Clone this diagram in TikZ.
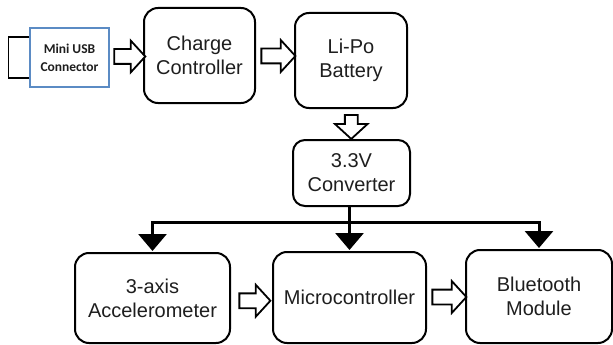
\documentclass[tikz,border=0pt]{standalone}
\usepackage{fontspec}
\setmainfont{Liberation Sans}
\newfontfamily\usbfont{Carlito}
\usetikzlibrary{arrows.meta,calc,shapes.arrows}
\definecolor{usbblue}{RGB}{91,139,196}
\definecolor{txt}{RGB}{30,30,30}
\begin{document}
\begin{tikzpicture}[x=1pt,y=-1pt,
  box/.style={draw, line width=2pt, rounded corners=14pt, align=center, text=txt,
    font=\fontsize{20}{24}\selectfont, inner sep=0pt},
  hollow/.style={single arrow, draw, line width=1.8pt, fill=white, inner sep=6.5pt,
    single arrow head extend=8.5pt, single arrow tip angle=95, minimum height=#1},
  bus/.style={line width=3pt, -{Triangle[width=28pt,length=17pt]}, shorten >=1pt}
]
\useasboundingbox (0,0) rectangle (613,345);

% USB connector
\node[draw=usbblue, line width=1.6pt, minimum width=79pt, minimum height=59pt,
  align=center, inner sep=0pt, text=txt,
  font=\usbfont\bfseries\fontsize{13.5}{18}\selectfont] (usb) at (69.5,57.5) {Mini USB\\Connector};
\draw[line width=1.2pt] ($(usb.west)+(0,-20.5)$) -- ++(-21,0) -- ++(0,41) -- ++(21,0);

% boxes
\node[box, minimum width=111pt, minimum height=95pt] (cc) at (199.5,55.5) {Charge\\Controller};
\node[box, minimum width=112pt, minimum height=95pt] (lipo) at (351,60.5) {Li-Po\\Battery};
\node[box, minimum width=117pt, minimum height=66pt, rounded corners=12pt] (conv) at (351.5,173) {3.3V\\Converter};
\node[box, minimum width=155pt, minimum height=90pt] (acc) at (152.5,298) {3-axis\\Accelerometer};
\node[box, minimum width=153pt, minimum height=91pt] (mcu) at (349.5,297.5) {Microcontroller};
\node[box, minimum width=146pt, minimum height=93pt] (bt) at (539,296.5) {Bluetooth\\Module};

% hollow arrows
\node[hollow=31pt] (a1) at ($(usb.east)!0.5!(cc.west)$) {};
\node[hollow=34pt] (a2) at ($(cc.east)!0.5!(lipo.west)+(0,-2)$) {};
\node[hollow=24pt, shape border rotate=270, inner sep=5.5pt, single arrow head extend=10pt] (a3) at ($(lipo.south)!0.5!(conv.north)$) {};
\node[hollow=31pt] (a4) at ($(acc.east)!0.5!(mcu.west)+(0,3)$) {};
\node[hollow=34pt] (a5) at ($(mcu.east)!0.5!(bt.west)$) {};

% power bus
\coordinate (hub) at ($(conv.south -| mcu.north)+(0,15)$);
\draw[bus] (conv.south -| mcu.north) -- (mcu.north);
\draw[bus] (hub) -| (acc.north);
\draw[bus] (hub) -| (bt.north);
\end{tikzpicture}
\end{document}
